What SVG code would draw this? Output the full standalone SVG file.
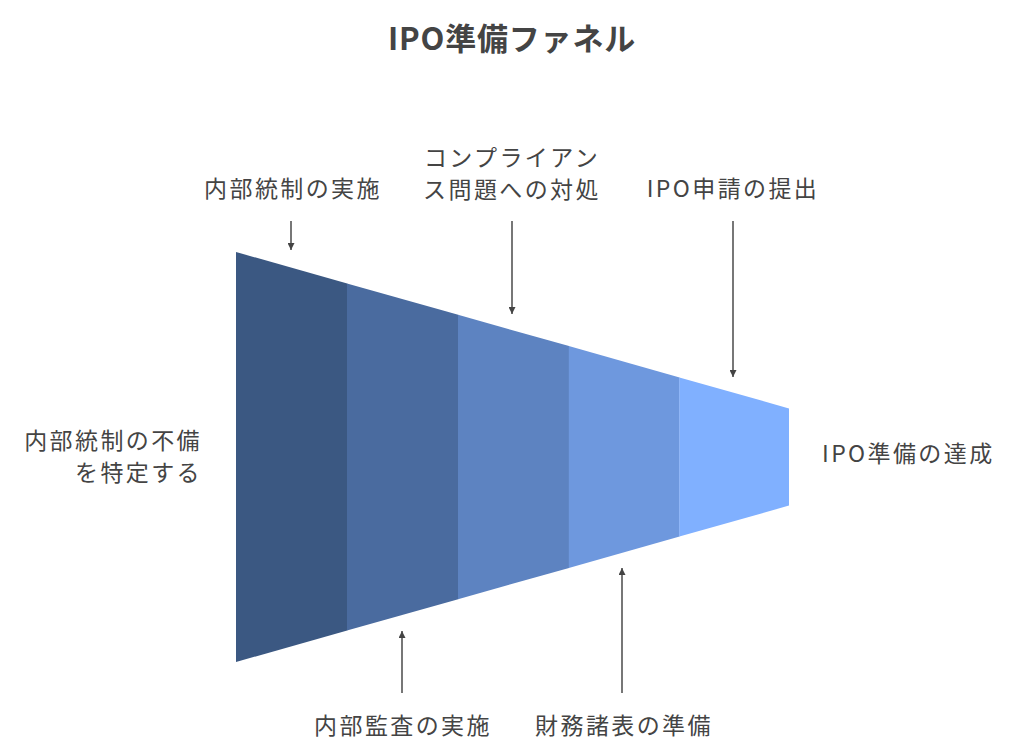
<svg xmlns="http://www.w3.org/2000/svg" width="1024" height="756" viewBox="0 0 1024 756">
<defs>
<style>
.t{font-family:"Noto Sans CJK JP","Noto Sans",sans-serif;font-size:23px;letter-spacing:2.4px;fill:#444444}
.title{font-family:"Noto Sans CJK JP","Noto Sans",sans-serif;font-size:31px;letter-spacing:0.8px;font-weight:bold;fill:#444444}
.c{stroke:#555555;stroke-width:1.6;fill:none;marker-end:url(#ah)}
</style>
<marker id="ah" viewBox="0 0 10 10" refX="10" refY="5" markerWidth="7" markerHeight="7" orient="auto" markerUnits="userSpaceOnUse">
<path d="M0,0 L10,5 L0,10 z" fill="#444444"/>
</marker>
</defs>
<rect width="1024" height="756" fill="#ffffff"/>
<text class="title" x="512" y="50" text-anchor="middle">IPO準備ファネル</text>
<g id="funnel">
<polygon id="s1" points="236,252 347.2,283.4 347.2,630.6 236,662" fill="#3b5882"/>
<polygon id="s2" points="347,283.4 458.2,314.8 458.2,599.2 347,630.6" fill="#4a6b9f"/>
<polygon id="s3" points="458,314.8 569,346.1 569,567.9 458,599.2" fill="#5d83c1"/>
<polygon id="s4" points="568.8,346.1 679.6,377.4 679.6,536.6 568.8,567.9" fill="#6e98de"/>
<polygon id="s5" points="679.4,377.4 789,408.4 789,505.6 679.4,536.6" fill="#80b0ff"/>
</g>
<g id="connectors">
<line class="c" x1="291" y1="221" x2="291" y2="250"/>
<line class="c" x1="512" y1="221" x2="512" y2="314"/>
<line class="c" x1="733" y1="221" x2="733" y2="377"/>
<line class="c" x1="402" y1="693" x2="402" y2="631"/>
<line class="c" x1="622" y1="693" x2="622" y2="568"/>
</g>
<g id="label-naibu-jisshi"><text class="t" x="293" y="197" text-anchor="middle">内部統制の実施</text></g>
<g id="label-compliance"><text class="t" x="512" y="166" text-anchor="middle">コンプライアン</text><text class="t" x="512" y="198" text-anchor="middle">ス問題への対処</text></g>
<g id="label-ipo-shinsei"><text class="t" x="733" y="197" text-anchor="middle">IPO申請の提出</text></g>
<g id="label-fubi"><text class="t" x="202" y="449" text-anchor="end">内部統制の不備</text><text class="t" x="202" y="481" text-anchor="end">を特定する</text></g>
<g id="label-tassei"><text class="t" x="822" y="462">IPO準備の達成</text></g>
<g id="label-kansa"><text class="t" x="403" y="734" text-anchor="middle">内部監査の実施</text></g>
<g id="label-zaimu"><text class="t" x="624" y="734" text-anchor="middle">財務諸表の準備</text></g>
</svg>
